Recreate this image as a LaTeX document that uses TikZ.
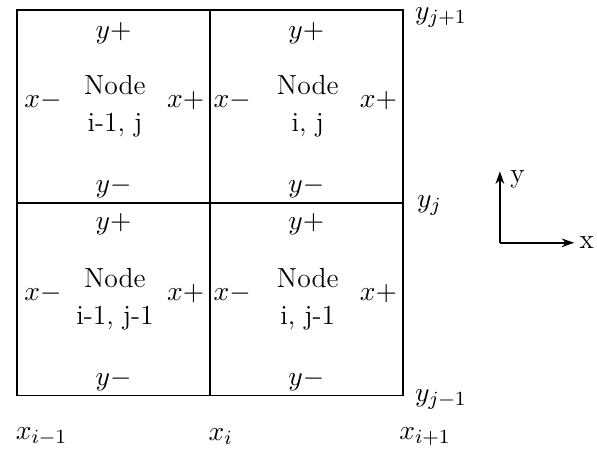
\documentclass[tikz,border=0pt]{standalone}
\usepackage{amsmath}
\usetikzlibrary{arrows.meta,positioning}

\begin{document}
\begin{tikzpicture}[
  gridline/.style={line width=0.7pt},
  dirlbl/.style={font=\fontsize{11}{15}\selectfont, inner sep=1pt},
  nodelbl/.style={align=center, font=\fontsize{11}{15}\selectfont, inner sep=1pt},
  coordlbl/.style={font=\fontsize{11}{15}\selectfont, inner sep=1pt},
  arr/.style={-{Stealth[length=5pt,width=3.5pt]}, line width=0.6pt},
]
\useasboundingbox (-0.24,-0.76) rectangle (8.12,5.54);

% --- Grid of four cells ---
\draw[gridline] (0,0) rectangle (5.4,5.4);
\draw[gridline] (2.7,0) -- (2.7,5.4);
\draw[gridline] (0,2.7) -- (5.4,2.7);

% --- Cell i-1, j ---
\node[nodelbl] (nw) at (1.37,4.05) {Node\\i-1, j};
\node[dirlbl] (nwyp) at (1.35,5.07) {$y+$};
\node[dirlbl] (nwym) at (1.35,2.92) {$y-$};
\node[dirlbl] (nwxm) at (0.36,4.13) {$x-$};
\node[dirlbl] (nwxp) at (2.36,4.13) {$x+$};

% --- Cell i, j ---
\node[nodelbl] (ne) at (4.07,4.05) {Node\\i, j};
\node[dirlbl] (neyp) at (4.05,5.07) {$y+$};
\node[dirlbl] (neym) at (4.05,2.92) {$y-$};
\node[dirlbl] (nexm) at (3.01,4.13) {$x-$};
\node[dirlbl] (nexp) at (5.06,4.13) {$x+$};

% --- Cell i-1, j-1 ---
\node[nodelbl] (sw) at (1.37,1.35) {Node\\i-1, j-1};
\node[dirlbl] (swyp) at (1.35,2.40) {$y+$};
\node[dirlbl] (swym) at (1.35,0.22) {$y-$};
\node[dirlbl] (swxm) at (0.36,1.43) {$x-$};
\node[dirlbl] (swxp) at (2.36,1.43) {$x+$};

% --- Cell i, j-1 ---
\node[nodelbl] (se) at (4.07,1.35) {Node\\i, j-1};
\node[dirlbl] (seyp) at (4.05,2.40) {$y+$};
\node[dirlbl] (seym) at (4.05,0.22) {$y-$};
\node[dirlbl] (sexm) at (3.01,1.43) {$x-$};
\node[dirlbl] (sexp) at (5.06,1.43) {$x+$};

% --- Grid coordinates ---
\node[coordlbl, anchor=west] (xim) at (-0.06,-0.57) {$x_{i-1}$};
\node[coordlbl, anchor=west] (xi) at (2.64,-0.57) {$x_i$};
\node[coordlbl, anchor=west] (xip) at (5.31,-0.57) {$x_{i+1}$};
\node[coordlbl, anchor=west] (yjp) at (5.53,5.3) {$y_{j+1}$};
\node[coordlbl, anchor=west] (yj) at (5.56,2.66) {$y_j$};
\node[coordlbl, anchor=west] (yjm) at (5.53,-0.05) {$y_{j-1}$};

% --- Axes ---
\coordinate (ax0) at (6.76,2.14);
\coordinate (axy) at (6.76,3.14);
\coordinate (axx) at (7.80,2.14);
\draw[arr] (ax0) -- (axy);
\draw[arr] (ax0) -- (axx);
\node[coordlbl, right=1pt of axx] (xname) {x};
\node[coordlbl, right=3pt of axy, yshift=-3pt] (yname) {y};
\end{tikzpicture}
\end{document}
